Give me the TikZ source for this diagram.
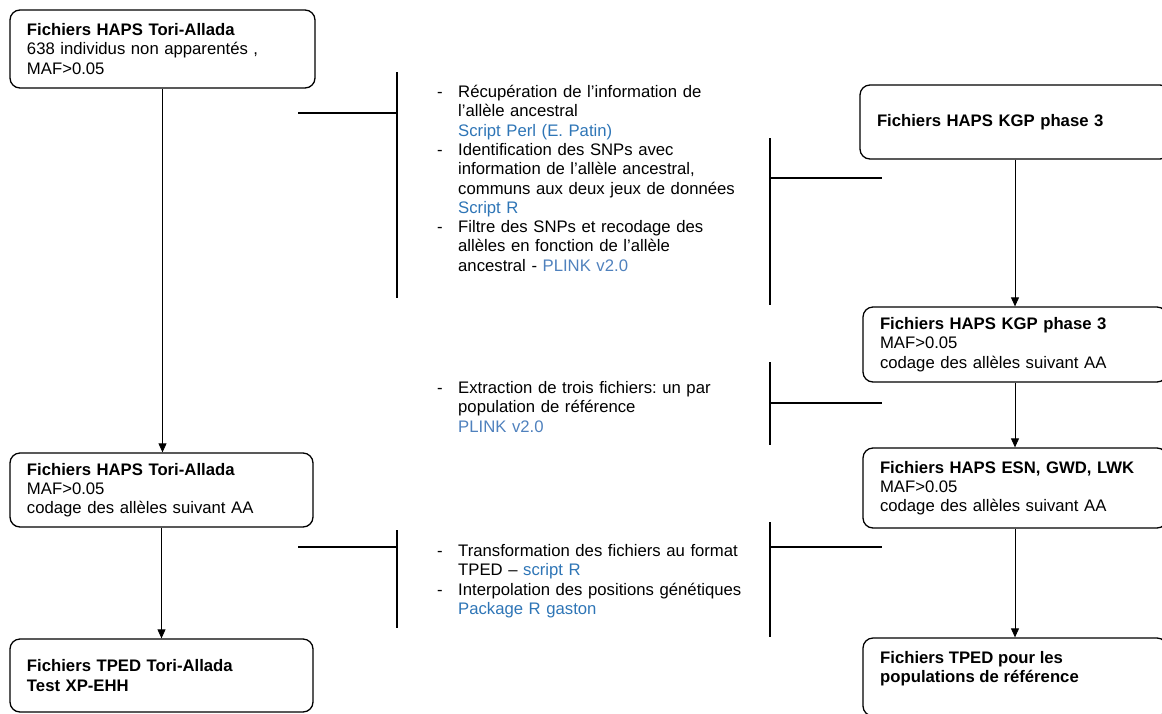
\documentclass[tikz,border=0pt]{standalone}
\usepackage{fontspec}
\setmainfont{Liberation Sans}
\usetikzlibrary{arrows.meta}
\definecolor{tblue}{HTML}{2E75B6}
\definecolor{pblue}{HTML}{4F81BD}
\frenchspacing
\newcommand\itm[1]{\par\noindent\hangindent=21pt\hangafter=1\makebox[21pt][l]{-}#1\par}
\newcommand\nl{\hfil\break}
\begin{document}
\begin{tikzpicture}[x=1pt,y=-1pt,
  font=\fontsize{16.7}{19.3}\selectfont\frenchspacing,
  box/.style={draw, line width=1.3pt, rounded corners=10pt, align=left, inner ysep=0pt, inner xsep=17pt},
  flow/.style={draw, line width=0.8pt, -{Triangle[length=9pt,width=8pt]}},
  brace/.style={draw, line width=1.6pt},
  steps/.style={anchor=north west, inner sep=0pt, text width=320pt, align=left}]
\useasboundingbox (0,0) rectangle (1162,713);

% left column
\node[box, text width=271pt, minimum height=78pt] (b1) at (162.5,49)
  {\textbf{Fichiers HAPS Tori-Allada}\\638 individus non apparentés ,\\MAF>0.05};
\node[box, text width=269pt, minimum height=74pt] (b6) at (161.5,490)
  {\textbf{Fichiers HAPS Tori-Allada}\\MAF>0.05\\codage des allèles suivant AA};
\node[box, text width=269pt, minimum height=73pt] (b7) at (161.5,675.5)
  {\textbf{Fichiers TPED Tori-Allada}\\\textbf{Test XP-EHH}};

% right column
\node[box, text width=276pt, minimum height=74pt] (b2) at (1015,122)
  {\textbf{Fichiers HAPS KGP phase 3}};
\node[box, text width=270pt, minimum height=75pt] (b3) at (1015,344.5)
  {\textbf{Fichiers HAPS KGP phase 3}\\MAF>0.05\\codage des allèles suivant AA};
\node[box, text width=270pt, minimum height=80pt] (b4) at (1015,488)
  {\textbf{Fichiers HAPS ESN, GWD, LWK}\\MAF>0.05\\codage des allèles suivant AA};
\node[box, minimum width=304pt, minimum height=78pt] (b5) at (1015,677) {};
\node[anchor=west, align=left, inner sep=0pt] (b5t) at (880,669)
  {\textbf{Fichiers TPED pour les}\\\textbf{populations de référence}};

% arrows
\draw[flow] (b1.south) -- (b1.south |- b6.north);
\draw[flow] (b6.south) -- (b6.south |- b7.north);
\draw[flow] (b2.south) -- (b3.north);
\draw[flow] (b3.south) -- (b4.north);
\draw[flow] (b4.south) -- (b5.north);

% bracket coordinates
\coordinate (g1lt) at (397,72);  \coordinate (g1lb) at (397,298);
\coordinate (g1lm) at (397,113); \coordinate (g1le) at (298,113);
\coordinate (g1rt) at (770,138); \coordinate (g1rb) at (770,305);
\coordinate (g1rm) at (770,178); \coordinate (g1re) at (882,178);
\coordinate (g2rt) at (770,362); \coordinate (g2rb) at (770,445);
\coordinate (g2rm) at (770,403); \coordinate (g2re) at (882,403);
\coordinate (g3lt) at (397,530); \coordinate (g3lb) at (397,628);
\coordinate (g3lm) at (397,547); \coordinate (g3le) at (298,547);
\coordinate (g3rt) at (770,522); \coordinate (g3rb) at (770,637);
\coordinate (g3rm) at (770,547); \coordinate (g3re) at (882,547);

\draw[brace] (g1lt) -- (g1lb);  \draw[brace] (g1le) -- (g1lm);
\draw[brace] (g1rt) -- (g1rb);  \draw[brace] (g1rm) -- (g1re);
\draw[brace] (g2rt) -- (g2rb);  \draw[brace] (g2rm) -- (g2re);
\draw[brace] (g3lt) -- (g3lb);  \draw[brace] (g3le) -- (g3lm);
\draw[brace] (g3rt) -- (g3rb);  \draw[brace] (g3rm) -- (g3re);

% step texts
\node[steps] (s1) at (437,78) {%
\itm{\rule{0pt}{13pt}Récupération de l'information de\nl l'allèle ancestral\nl \textcolor{tblue}{Script Perl (E. Patin)}}%
\itm{Identification des SNPs avec\nl information de l'allèle ancestral,\nl communs aux deux jeux de données\nl \textcolor{tblue}{Script R}}%
\itm{Filtre des SNPs et recodage des\nl allèles en fonction de l'allèle\nl ancestral - \textcolor{pblue}{PLINK v2.0}}};

\node[steps] (s2) at (437,374) {%
\itm{\rule{0pt}{13pt}Extraction de trois fichiers: un par\nl population de référence\nl \textcolor{pblue}{PLINK v2.0}}};

\node[steps] (s3) at (437,537) {%
\itm{\rule{0pt}{13pt}Transformation des fichiers au format\nl TPED – \textcolor{tblue}{script R}}%
\itm{Interpolation des positions génétiques\nl \textcolor{tblue}{Package R gaston}}};
\end{tikzpicture}
\end{document}
